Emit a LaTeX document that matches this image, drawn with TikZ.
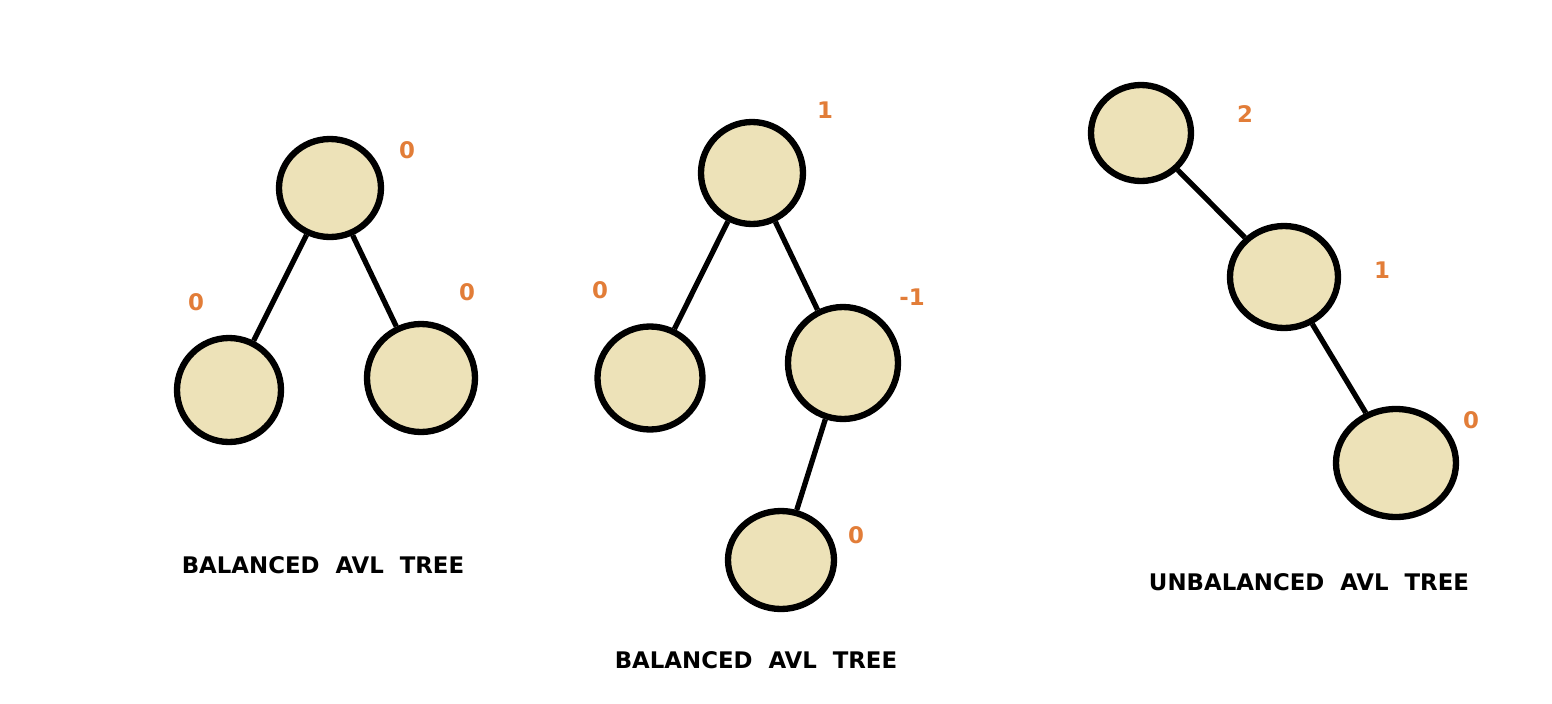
\documentclass[tikz,border=0pt]{standalone}
\usepackage{fontspec}
\setmainfont{DejaVu Sans}
\usetikzlibrary{shapes.geometric}
\definecolor{nodefill}{RGB}{237,226,184}
\definecolor{balorange}{RGB}{226,125,56}

\begin{document}
\begin{tikzpicture}[line width=1.5pt]
    \tikzstyle{avl node}=[ellipse, draw=black, fill=nodefill, line width=1.8pt, inner sep=0pt]
    \tikzstyle{balance}=[text=balorange, font=\fontsize{6.5}{7}\selectfont\bfseries, inner sep=1pt]
    \tikzstyle{caption}=[font=\fontsize{6.5}{8}\selectfont\bfseries, inner sep=1pt]

    \useasboundingbox (0,0) rectangle (15.52,-7.04);

    % Balanced tree on the left
    \node[avl node, minimum width=1.02cm, minimum height=0.98cm] (A-root) at (3.30,-1.88) {};
    \node[avl node, minimum width=1.04cm, minimum height=1.04cm] (A-left) at (2.29,-3.90) {};
    \node[avl node, minimum width=1.08cm, minimum height=1.08cm] (A-right) at (4.21,-3.78) {};
    \node[balance] (A-root-bal) at (4.07,-1.50) {0};
    \node[balance] (A-left-bal) at (1.96,-3.02) {0};
    \node[balance] (A-right-bal) at (4.67,-2.92) {0};
    \node[caption] (A-cap) at (3.23,-5.65) {BALANCED\ \ AVL\ \ TREE};

    % Balanced tree in the middle
    \node[avl node, minimum width=1.02cm, minimum height=1.02cm] (B-root) at (7.52,-1.73) {};
    \node[avl node, minimum width=1.05cm, minimum height=1.03cm] (B-left) at (6.50,-3.78) {};
    \node[avl node, minimum width=1.10cm, minimum height=1.12cm] (B-right) at (8.43,-3.63) {};
    \node[avl node, minimum width=1.06cm, minimum height=0.98cm] (B-low) at (7.81,-5.60) {};
    \node[balance] (B-root-bal) at (8.25,-1.10) {1};
    \node[balance] (B-left-bal) at (6.00,-2.90) {0};
    \node[balance] (B-right-bal) at (9.12,-2.97) {-1};
    \node[balance] (B-low-bal) at (8.56,-5.35) {0};
    \node[caption] (B-cap) at (7.56,-6.60) {BALANCED\ \ AVL\ \ TREE};

    % Unbalanced tree on the right
    \node[avl node, minimum width=1.00cm, minimum height=0.96cm] (C-top) at (11.41,-1.33) {};
    \node[avl node, minimum width=1.08cm, minimum height=1.02cm] (C-mid) at (12.84,-2.77) {};
    \node[avl node, minimum width=1.20cm, minimum height=1.08cm] (C-low) at (13.96,-4.63) {};
    \node[balance] (C-top-bal) at (12.45,-1.14) {2};
    \node[balance] (C-mid-bal) at (13.82,-2.70) {1};
    \node[balance] (C-low-bal) at (14.71,-4.20) {0};
    \node[caption] (C-cap) at (13.09,-5.82) {UNBALANCED\ \ AVL\ \ TREE};

    % Connect parents with children
    \foreach \parent / \child in {A-root/A-left, A-root/A-right,
            B-root/B-left, B-root/B-right, B-right/B-low,
            C-top/C-mid, C-mid/C-low}
        \draw (\parent) -- (\child);
\end{tikzpicture}
\end{document}
